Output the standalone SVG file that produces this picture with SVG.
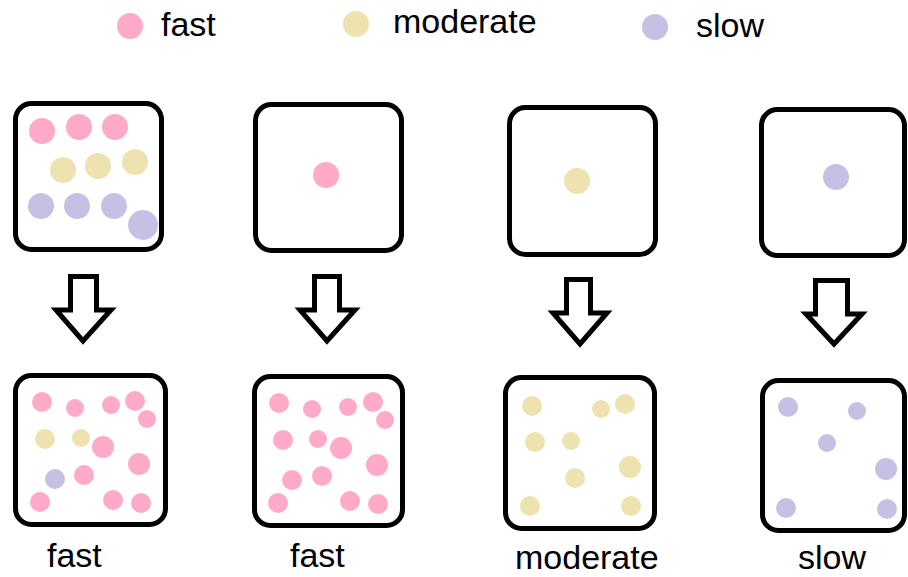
<svg xmlns="http://www.w3.org/2000/svg" width="908" height="577" viewBox="0 0 908 577">
<style>
.box{fill:#fff;stroke:#000;stroke-width:5}
.arr{fill:#fff;stroke:#000;stroke-width:5;stroke-linejoin:miter}
.p{fill:#FFAAC8}
.y{fill:#EEE2B0}
.v{fill:#C8C0E4}
text{font-family:"Liberation Sans",Arial,sans-serif;font-size:34px;fill:#000}
</style>
<rect width="908" height="577" fill="#fff"/>
<g id="legend">
<circle class="p" cx="130" cy="26" r="13"/><text x="161" y="36">fast</text>
<circle class="y" cx="356" cy="24" r="13"/><text x="393" y="33">moderate</text>
<circle class="v" cx="655" cy="27" r="13"/><text x="696" y="37">slow</text>
</g>
<g id="mix-start">
<rect class="box" x="15.5" y="103.5" width="146" height="146" rx="16"/>
<circle class="p" cx="42" cy="131" r="13"/><circle class="p" cx="79" cy="127" r="13"/><circle class="p" cx="115" cy="127" r="13"/>
<circle class="y" cx="63" cy="170" r="13"/><circle class="y" cx="98" cy="166" r="13"/><circle class="y" cx="135" cy="162" r="13"/>
<circle class="v" cx="41" cy="206" r="13"/><circle class="v" cx="77" cy="206" r="13"/><circle class="v" cx="114" cy="206" r="13"/><circle class="v" cx="143" cy="225" r="15"/>
</g>
<g id="fast-start">
<rect class="box" x="255.5" y="104.5" width="146" height="146" rx="16"/>
<circle class="p" cx="326" cy="175" r="13"/>
</g>
<g id="moderate-start">
<rect class="box" x="509.5" y="107.5" width="146" height="147" rx="16"/>
<circle class="y" cx="577" cy="181" r="13"/>
</g>
<g id="slow-start">
<rect class="box" x="761.5" y="109.5" width="143" height="146" rx="16"/>
<circle class="v" cx="836" cy="177" r="13"/>
</g>
<g id="connectors">
<path class="arr" d="M70.5,276.5 H96.5 V310 H111 L83,341 L56,310 H70.5 Z"/>
<path class="arr" d="M314.5,276.5 H339.5 V310 H355 L327,341 L300,310 H314.5 Z"/>
<path class="arr" d="M566.5,279.5 H590.5 V313 H607 L580,344 L553,313 H566.5 Z"/>
<path class="arr" d="M815.5,280.5 H847.5 V314 H862 L834,344 L806,314 H815.5 Z"/>
</g>
<g id="mix-end">
<rect class="box" x="15.5" y="375.5" width="150" height="149" rx="16"/>
<circle class="p" cx="42" cy="402" r="10"/><circle class="p" cx="75" cy="408" r="9"/><circle class="p" cx="111" cy="405" r="9"/><circle class="p" cx="135" cy="401" r="10"/><circle class="p" cx="147" cy="419" r="9"/>
<circle class="y" cx="45" cy="439" r="10"/><circle class="y" cx="81" cy="438" r="9"/>
<circle class="p" cx="103" cy="447" r="11"/><circle class="p" cx="139" cy="464" r="11"/>
<circle class="v" cx="55" cy="479" r="10"/><circle class="p" cx="84" cy="475" r="10"/>
<circle class="p" cx="40" cy="502" r="10"/><circle class="p" cx="113" cy="500" r="10"/><circle class="p" cx="141" cy="503" r="10"/>
<text x="47" y="567">fast</text>
</g>
<g id="fast-end">
<rect class="box" x="254.5" y="376.5" width="148" height="149" rx="16"/>
<circle class="p" cx="279" cy="403" r="10"/><circle class="p" cx="312" cy="409" r="9"/><circle class="p" cx="348" cy="407" r="9"/><circle class="p" cx="373" cy="402" r="10"/><circle class="p" cx="385" cy="420" r="9"/>
<circle class="p" cx="283" cy="440" r="10"/><circle class="p" cx="318" cy="439" r="9"/><circle class="p" cx="341" cy="448" r="11"/><circle class="p" cx="377" cy="465" r="11"/>
<circle class="p" cx="292" cy="480" r="10"/><circle class="p" cx="322" cy="476" r="10"/>
<circle class="p" cx="278" cy="503" r="10"/><circle class="p" cx="350" cy="501" r="10"/><circle class="p" cx="378" cy="504" r="10"/>
<text x="290" y="567">fast</text>
</g>
<g id="moderate-end">
<rect class="box" x="505.5" y="377.5" width="149" height="151" rx="16"/>
<circle class="y" cx="532" cy="406" r="10"/><circle class="y" cx="601" cy="409" r="9"/><circle class="y" cx="625" cy="404" r="10"/>
<circle class="y" cx="535" cy="442" r="10"/><circle class="y" cx="571" cy="441" r="9"/><circle class="y" cx="630" cy="467" r="11"/>
<circle class="y" cx="575" cy="478" r="10"/><circle class="y" cx="530" cy="506" r="10"/><circle class="y" cx="631" cy="506" r="10"/>
<text x="515" y="569">moderate</text>
</g>
<g id="slow-end">
<rect class="box" x="762.5" y="380.5" width="142" height="150" rx="16"/>
<circle class="v" cx="788" cy="407" r="10"/><circle class="v" cx="857" cy="411" r="9"/><circle class="v" cx="827" cy="443" r="9"/>
<circle class="v" cx="886" cy="469" r="11"/><circle class="v" cx="786" cy="508" r="10"/><circle class="v" cx="887" cy="509" r="10"/>
<text x="798" y="569">slow</text>
</g>
</svg>
